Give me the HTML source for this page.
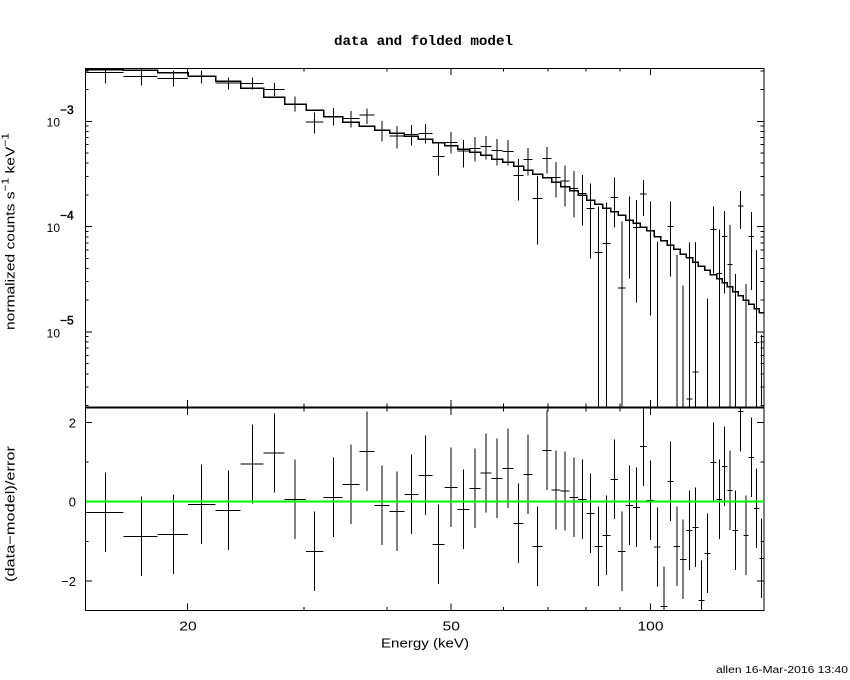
<!DOCTYPE html>
<html>
<head>
<meta charset="utf-8">
<style>
html,body{margin:0;padding:0;background:#fff;}
svg{display:block;}
</style>
</head>
<body>
<svg width="850" height="680" viewBox="0 0 850 680" xmlns="http://www.w3.org/2000/svg">
<rect x="0" y="0" width="850" height="680" fill="#fff"/>
<text x="334" y="45" font-family="Liberation Mono, monospace" font-weight="bold" font-size="14" textLength="179" lengthAdjust="spacingAndGlyphs" fill="#000">data and folded model</text>
<g shape-rendering="crispEdges" stroke="#000" fill="none">
<path d="M85.5,68V611M764,68V611M85,68.5H764.5M85,610.5H764.5" stroke-width="1.2"/>
<path d="M85,407.5H764.5" stroke-width="2"/>
<path stroke-width="1" d="M85,121.3h7M85,226.6h7M85,331.9h7M85,71.1h3.5M85,89.6h3.5M85,126.1h3.5M85,131.5h3.5M85,137.6h3.5M85,144.7h3.5M85,153h3.5M85,163.2h3.5M85,176.4h3.5M85,194.9h3.5M85,231.4h3.5M85,236.8h3.5M85,242.9h3.5M85,250h3.5M85,258.3h3.5M85,268.5h3.5M85,281.7h3.5M85,300.2h3.5M85,336.7h3.5M85,342.1h3.5M85,348.2h3.5M85,355.3h3.5M85,363.6h3.5M85,373.8h3.5M85,387h3.5M85,405.5h3.5M764,121.3h-7M764,226.6h-7M764,331.9h-7M764,71.1h-3.5M764,89.6h-3.5M764,126.1h-3.5M764,131.5h-3.5M764,137.6h-3.5M764,144.7h-3.5M764,153h-3.5M764,163.2h-3.5M764,176.4h-3.5M764,194.9h-3.5M764,231.4h-3.5M764,236.8h-3.5M764,242.9h-3.5M764,250h-3.5M764,258.3h-3.5M764,268.5h-3.5M764,281.7h-3.5M764,300.2h-3.5M764,336.7h-3.5M764,342.1h-3.5M764,348.2h-3.5M764,355.3h-3.5M764,363.6h-3.5M764,373.8h-3.5M764,387h-3.5M764,405.5h-3.5"/>
<path stroke-width="1" d="M85,422.5h7M85,501.7h7M85,580.9h7M85,462.1h3.5M85,541.3h3.5M764,422.5h-7M764,501.7h-7M764,580.9h-7M764,462.1h-3.5M764,541.3h-3.5"/>
<path stroke-width="1" d="M187.7,68v7M451.1,68v7M650.3,68v7M304.2,68v3.5M386.9,68v3.5M503.5,68v3.5M547.8,68v3.5M586.1,68v3.5M620,68v3.5M187.7,407v-7M451.1,407v-7M650.3,407v-7M304.2,407v-3.5M386.9,407v-3.5M503.5,407v-3.5M547.8,407v-3.5M586.1,407v-3.5M620,407v-3.5M187.7,408v7M451.1,408v7M650.3,408v7M304.2,408v3.5M386.9,408v3.5M503.5,408v3.5M547.8,408v3.5M586.1,408v3.5M620,408v3.5M187.7,610.5v-7M451.1,610.5v-7M650.3,610.5v-7M304.2,610.5v-3.5M386.9,610.5v-3.5M503.5,610.5v-3.5M547.8,610.5v-3.5M586.1,610.5v-3.5M620,610.5v-3.5"/>
<path stroke-width="1.5" d="M85,69.5H123.3V70H157.7V72.7H188V76.3H215.7V81.3H240.7V88.3H263.7V97.3H284.7V104H306V110.3H323.7V116.7H342.7V122H359.3V126.3H374.7V130H389.7V133.3H404.3V136H418.3V139H432.7V142.7H444.7V145.7H457.7V149.3H469.7V152.3H480.7V155.3H491.7V159H502.7V162.3H513.7V166.3H523.7V170.3H532.7V174.3H542.7V177.7H551.7V182H560.7V186.7H569.7V190.7H578V195H586.7V200H594.7V204H602.7V208.3H610.7V211.7H618V215H625.7V220H633V223.3H640V227.3H646.7V230.7H654V236.7H660.7V240.7H667.3V245H673.7V249.3H680V254H686.3V257.7H692.7V262H698.3V266H704.7V270H710.3V274.7H716.7V278.7H722V282.7H727.3V286.7H732.7V291.7H738V295.7H743.3V300H748.7V304H754V308.7H759.3V312.7H764"/>
<path stroke-width="1" d="M85,72.3H123.3M105.3,68V83.3M123.3,76.3H157.7M141.3,68.3V85.7M157.7,78.3H188M173.3,70.7V86.7M188,76.3H215.7M201.3,70.7V83.3M215.7,83H240.7M228.3,77.3V89.7M240.7,83.3H263.7M252.7,77.3V89.7M263.7,89.3H284.7M274.3,83V96M284.7,104H306M295,96.3V111.7M306,122H323.7M314.3,112.3V133.7M323.7,116.7H342.7M333.3,108V125.7M342.7,118.3H359.3M351,111V127.7M359.3,115H374.7M367,108.3V124M374.7,130H389.7M382.2,121V141.7M389.7,136H404.3M397,126V148.7M404.3,134.7H418.3M411.3,125V145.7M418.3,133.3H432.7M425.5,124V143.3M432.7,156.3H444.7M438.7,143.3V175.7M444.7,142.3H457.7M451.2,132V153.7M457.7,151H469.7M463.7,140V167.7M469.7,148.7H480.7M475.2,137V161.7M480.7,146.3H491.7M486.2,136V159.7M491.7,150.7H502.7M497.2,139V165.7M502.7,151.3H513.7M508.2,140V165.3M513.7,175.3H523.7M518.7,159V200.7M523.7,159.3H532.7M528.2,148V175.7M532.7,198.3H542.7M537.7,176V244.7M542.7,158.3H551.7M547.2,147V173.7M551.7,177.3H560.7M556.2,162V197.7M560.7,181H569.7M565.2,165.3V206.7M569.7,188.7H578M573.8,171V217.7M578,193.3H586.7M582.3,175V225.7M586.7,208.3H594.7M590.7,183.3V258.3M594.7,252.3H602.7M598.7,206.7V407M602.7,243.3H610.7M606.7,202.7V407M610.7,197.3H618M614.3,177.7V227.7M618,288H625.7M621.8,221.7V407M625.7,220.3H633M629.3,196.7V278.7M633,227.3H640M636.5,200V302.7M640,194H646.7M643.3,180V216M646.7,230.7H654M650.3,201.7V315.7M657.3,241.7V407M667.3,226.3H673.7M670.5,201.7V276.7M676.8,255V407M683.2,285.7V407M686.3,399H692.7M689.5,242.7V407M692.7,372H698.3M695.5,242V407M707.5,298.3V407M710.3,229.3H716.7M713.5,206.7V273.3M716.7,273.3H722M719.3,229.3V407M722,236.5H727.3M724.7,211V293.5M727.3,264.3H732.7M730,225V407M735.3,274V407M738,206H743.3M740.7,191V229M746,284V407M748.7,236.7H754M751.3,212V290M754,342.3H759.3M756.7,250V407M761.7,335V407"/>
<path stroke-width="1" d="M85,512.3H123.3M105.3,472.7V551.9M123.3,536.3H157.7M141.3,496.7V575.9M157.7,534.3H188M173.3,494.7V573.9M188,504.3H215.7M201.3,464.7V543.9M215.7,510.3H240.7M228.3,470.7V549.9M240.7,464H263.7M252.7,424.4V503.6M263.7,453H284.7M274.3,413.4V492.6M284.7,499.3H306M295,459.7V538.9M306,551.3H323.7M314.3,511.7V590.9M323.7,497.3H342.7M333.3,457.7V536.9M342.7,484.3H359.3M351,444.7V523.9M359.3,451.3H374.7M367,411.7V490.9M374.7,505.3H389.7M382.2,465.7V544.9M389.7,511.3H404.3M397,471.7V550.9M404.3,494.3H418.3M411.3,454.7V533.9M418.3,475.3H432.7M425.5,435.7V514.9M432.7,544.3H444.7M438.7,504.7V583.9M444.7,487.3H457.7M451.2,447.7V526.9M457.7,509.3H469.7M463.7,469.7V548.9M469.7,488.3H480.7M475.2,448.7V527.9M480.7,473H491.7M486.2,433.4V512.6M491.7,478.3H502.7M497.2,438.7V517.9M502.7,468.3H513.7M508.2,428.7V507.9M513.7,523.3H523.7M518.7,483.7V562.9M523.7,474.3H532.7M528.2,434.7V513.9M532.7,546.3H542.7M537.7,506.7V585.9M542.7,450.3H551.7M547.2,410.7V489.9M551.7,490H560.7M556.2,450.4V529.6M560.7,491H569.7M565.2,451.4V530.6M569.7,497.3H578M573.8,457.7V536.9M578,499.3H586.7M582.3,459.7V538.9M586.7,513.3H594.7M590.7,473.7V552.9M594.7,546.3H602.7M598.7,506.7V585.9M602.7,535.3H610.7M606.7,495.7V574.9M610.7,479.3H618M614.3,439.7V518.9M618,551.3H625.7M621.8,511.7V590.9M625.7,505.3H633M629.3,465.7V544.9M633,507.3H640M636.5,467.7V546.9M640,446.3H646.7M643.3,408V485.9M646.7,500.3H654M650.3,460.7V539.9M654,547H660.7M657.3,507.4V586.6M660.7,606.3H667.3M664,566.7V610.5M667.3,481.3H673.7M670.5,441.7V520.9M673.7,546.3H680M676.8,506.7V585.9M680,559.3H686.3M683.2,519.7V598.9M686.3,530.3H692.7M689.5,490.7V569.9M692.7,527.3H698.3M695.5,487.7V566.9M698.3,600.3H704.7M701.5,560.7V610.5M704.7,553.3H710.3M707.5,513.7V592.9M710.3,462.3H716.7M713.5,422.7V501.9M716.7,499.3H722M719.3,459.7V538.9M722,466.3H727.3M724.7,426.7V505.9M727.3,490.3H732.7M730,450.7V529.9M732.7,530.3H738M735.3,490.7V569.9M738,411.7H743.3M740.7,408V451.3M743.3,535.3H748.7M746,495.7V574.9M748.7,457.3H754M751.3,417.7V496.9M754,508.3H759.3M756.7,468.7V547.9M759.3,558.3H764M761.7,518.7V597.9"/>
</g>
<path d="M86,501.7H764" stroke="#00ff00" stroke-width="2" shape-rendering="crispEdges"/>
<g font-family="Liberation Sans, sans-serif" fill="#000">
<text x="60" y="126.7" font-size="12" text-anchor="end">10</text>
<text x="60" y="114" font-size="12" stroke="#000" stroke-width="0.4">−3</text>
<text x="60" y="232" font-size="12" text-anchor="end">10</text>
<text x="60" y="219.3" font-size="12" stroke="#000" stroke-width="0.4">−4</text>
<text x="60" y="337.3" font-size="12" text-anchor="end">10</text>
<text x="60" y="324.6" font-size="12" stroke="#000" stroke-width="0.4">−5</text>
<text x="76" y="427.5" font-size="13" text-anchor="end">2</text>
<text x="76" y="506.5" font-size="13" text-anchor="end">0</text>
<text x="76" y="585.8" font-size="13" text-anchor="end">−2</text>
<text x="179.3" y="630.5" font-size="13" textLength="17.4" lengthAdjust="spacingAndGlyphs">20</text>
<text x="442.5" y="630.5" font-size="13" textLength="17.4" lengthAdjust="spacingAndGlyphs">50</text>
<text x="637.5" y="630.5" font-size="13" textLength="26" lengthAdjust="spacingAndGlyphs">100</text>
<text x="381" y="647.5" font-size="13" textLength="88" lengthAdjust="spacingAndGlyphs">Energy (keV)</text>
<text transform="translate(14.5,330) rotate(-90)" font-size="13" textLength="197" lengthAdjust="spacingAndGlyphs">normalized counts s<tspan dy="-6" font-size="10">−1</tspan><tspan dy="6"> keV</tspan><tspan dy="-6" font-size="10">−1</tspan></text>
<text transform="translate(14.5,582) rotate(-90)" font-size="13" textLength="136" lengthAdjust="spacingAndGlyphs">(data−model)/error</text>
<text x="716" y="673" font-size="10" textLength="132" lengthAdjust="spacingAndGlyphs">allen 16-Mar-2016 13:40</text>
</g>
</svg>
</body>
</html>
